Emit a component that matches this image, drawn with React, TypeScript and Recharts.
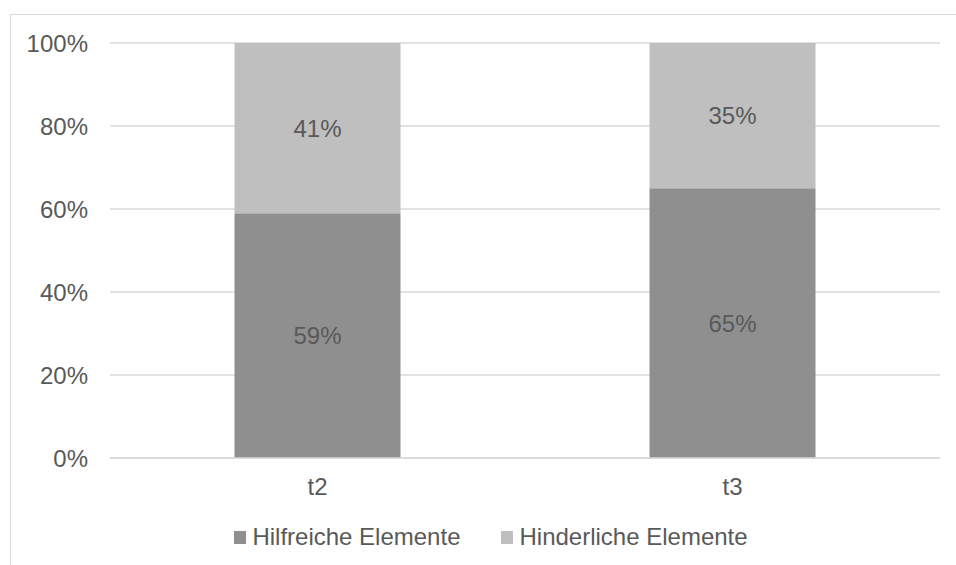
import { BarChart, Bar, XAxis, YAxis, CartesianGrid, LabelList, Legend } from "recharts";

const categories = ["t2", "t3"];
const helpful = [59, 65];
const hindering = [41, 35];
const yTicks = [0, 20, 40, 60, 80, 100];

const SERIES = [
  { key: "helpful", name: "Hilfreiche Elemente", color: "#8f8f8f" },
  { key: "hindering", name: "Hinderliche Elemente", color: "#bfbfbf" },
];

const data = categories.map((c, i) => ({ cat: c, helpful: helpful[i], hindering: hindering[i] }));

const FONT = "'Liberation Sans', Arial, sans-serif";
const TXT = "#595959";
const FS = 24;

const renderLegend = () => (
  <div style={{ display: "flex", justifyContent: "center", fontFamily: FONT, fontSize: FS, lineHeight: "28px", color: TXT, paddingLeft: 42 }}>
    {SERIES.map((s, i) => (
      <div key={s.key} style={{ display: "flex", alignItems: "center", marginRight: i === 0 ? 41 : 0 }}>
        <span style={{ width: 12, height: 13, background: s.color, display: "inline-block", marginRight: 6 }} />
        <span>{s.name}</span>
      </div>
    ))}
  </div>
);

export default function App() {
  return (
    <div style={{ position: "absolute", left: 0, top: 0, width: 956, height: 565, overflow: "hidden", background: "#fff" }}>
      <div style={{ position: "absolute", left: 10, top: 14, width: 980, height: 600, border: "1px solid #d9d9d9" }} />
      <div style={{ position: "absolute", left: 0, top: 0 }}>
        <BarChart width={956} height={565} data={data} margin={{ top: 43, right: 16, bottom: 0, left: 0 }} barCategoryGap="30%">
          <CartesianGrid vertical={false} stroke="#d9d9d9" strokeWidth={1.5} />
          <XAxis
            dataKey="cat"
            axisLine={{ stroke: "#d9d9d9", strokeWidth: 1.5 }}
            tickLine={false}
            tickSize={0}
            tickMargin={20}
            height={65}
            tick={{ fill: TXT, fontSize: FS, fontFamily: FONT }}
          />
          <YAxis
            domain={[0, 100]}
            ticks={yTicks}
            tickFormatter={(v) => `${v}%`}
            axisLine={false}
            tickLine={false}
            tickSize={0}
            tickMargin={22}
            width={110}
            tick={{ fill: TXT, fontSize: FS, fontFamily: FONT }}
          />
          <Legend verticalAlign="bottom" height={42} content={renderLegend} />
          {SERIES.map((s) => (
            <Bar key={s.key} dataKey={s.key} name={s.name} stackId="a" fill={s.color} isAnimationActive={false}>
              <LabelList
                dataKey={s.key}
                position="center"
                formatter={(v: any) => `${v}%`}
                style={{ fill: TXT, fontSize: FS, fontFamily: FONT }}
              />
            </Bar>
          ))}
        </BarChart>
      </div>
    </div>
  );
}
